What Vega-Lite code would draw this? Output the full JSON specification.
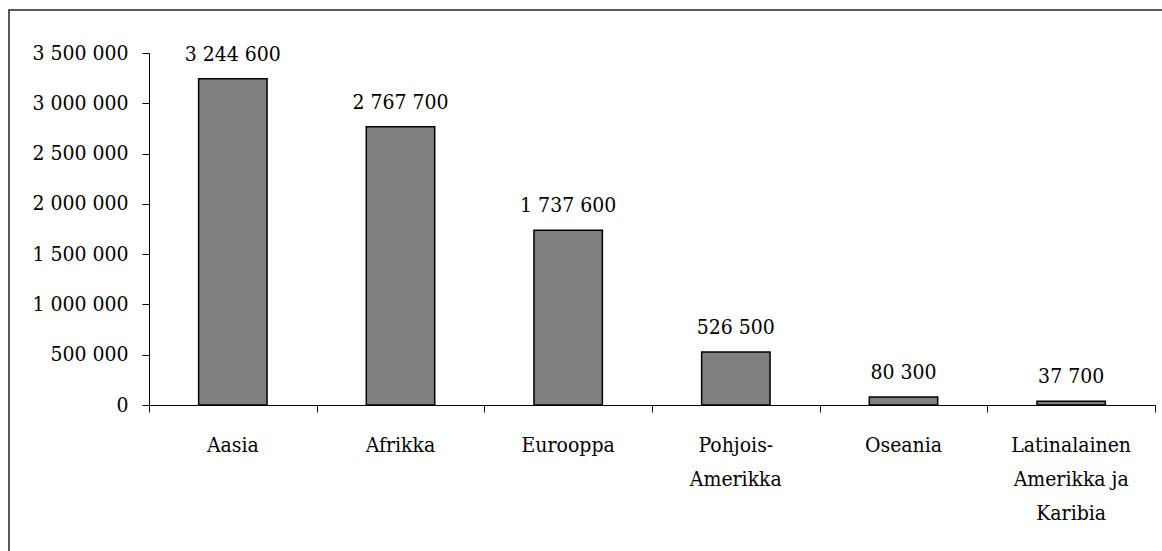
{
  "$schema": "https://vega.github.io/schema/vega-lite/v6.json",
  "width": 1163,
  "height": 551,
  "autosize": {"type": "none"},
  "padding": {"left": 9, "top": 10, "right": -10, "bottom": -10},
  "background": "white",
  "config": {
    "locale": {"number": {"decimal": ",", "thousands": " ", "grouping": [3], "currency": ["", " €"]}},
    "view": {"stroke": "#222222", "strokeWidth": 1.5},
    "font": "DejaVu Serif Condensed, DejaVu Serif",
    "axis": {"labelFont": "DejaVu Serif Condensed, DejaVu Serif", "labelFontSize": 21, "labelColor": "black", "domainColor": "black", "tickColor": "black", "grid": false, "title": null}
  },
  "data": {"values": [
    {"region": "Aasia", "value": 3244600},
    {"region": "Afrikka", "value": 2767700},
    {"region": "Eurooppa", "value": 1737600},
    {"region": "Pohjois-Amerikka", "value": 526500},
    {"region": "Oseania", "value": 80300},
    {"region": "Latinalainen Amerikka ja Karibia", "value": 37700}
  ]},
  "layer": [
    {
      "encoding": {
        "x": {"field": "region", "type": "nominal", "sort": null,
          "scale": {"range": [140, 1146], "paddingInner": 0.592, "paddingOuter": 0.296},
          "axis": {"orient": "bottom", "offset": -156, "ticks": false, "domain": false, "labelAngle": 0, "labelPadding": 29, "labelBaseline": "top", "labelLineHeight": 34, "labelAlign": "center",
            "labelExpr": "datum.label == 'Pohjois-Amerikka' ? ['Pohjois-', 'Amerikka'] : datum.label == 'Latinalainen Amerikka ja Karibia' ? ['Latinalainen', 'Amerikka ja', 'Karibia'] : datum.label",
            "title": null}},
        "y": {"field": "value", "type": "quantitative",
          "scale": {"domain": [0, 3500000], "range": [395, 43], "nice": false},
          "axis": {"offset": -140, "values": [0, 500000, 1000000, 1500000, 2000000, 2500000, 3000000, 3500000], "format": ",d", "tickSize": 7, "labelPadding": 14, "title": null}}
      },
      "layer": [
        {"mark": {"type": "bar", "fill": "#808080", "stroke": "black", "strokeWidth": 1.5}},
        {"mark": {"type": "text", "baseline": "alphabetic", "dy": -18, "fontSize": 21, "font": "DejaVu Serif Condensed, DejaVu Serif", "color": "black"},
         "encoding": {"text": {"field": "value", "format": ",d"}}}
      ]
    },
    {
      "mark": {"type": "rule", "opacity": 0},
      "encoding": {
        "x": {"datum": 0, "type": "quantitative",
          "scale": {"domain": [0, 6], "range": [140, 1146], "nice": false, "zero": false},
          "axis": {"orient": "bottom", "offset": -156, "values": [0, 1, 2, 3, 4, 5, 6], "labels": false, "tickSize": 7, "domain": true, "title": null, "grid": false}}
      }
    }
  ],
  "resolve": {"scale": {"x": "independent"}, "axis": {"x": "independent"}}
}
